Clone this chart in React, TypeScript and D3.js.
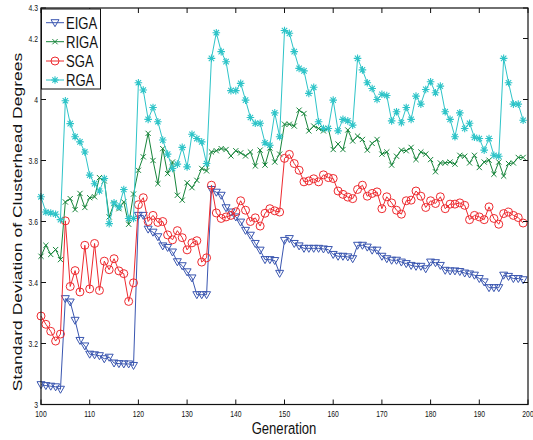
import React from "react";
import * as d3 from "d3";

const generations: number[] = d3.range(100, 200);

const eiga: number[] = [
  3.065, 3.062, 3.06, 3.058, 3.05, 3.347, 3.336, 3.276, 3.21, 3.192,
  3.165, 3.163, 3.16, 3.15, 3.155, 3.136, 3.134, 3.133, 3.133, 3.128,
  3.62, 3.62, 3.575, 3.565, 3.55, 3.52, 3.515, 3.5, 3.468, 3.455,
  3.435, 3.415, 3.36, 3.36, 3.36, 3.705, 3.696, 3.686, 3.645, 3.631,
  3.615, 3.598, 3.571, 3.555, 3.528, 3.506, 3.475, 3.475, 3.472, 3.43,
  3.538, 3.544, 3.528, 3.52, 3.512, 3.512, 3.512, 3.512, 3.51, 3.508,
  3.492, 3.486, 3.486, 3.484, 3.478, 3.522, 3.522, 3.516, 3.506, 3.506,
  3.486, 3.478, 3.473, 3.473, 3.467, 3.462, 3.456, 3.453, 3.453, 3.445,
  3.467, 3.465, 3.456, 3.44, 3.438, 3.438, 3.436, 3.431, 3.428, 3.424,
  3.413, 3.402, 3.383, 3.383, 3.383, 3.424, 3.42, 3.413, 3.413, 3.409,
];

const riga: number[] = [
  3.486, 3.522, 3.492, 3.508, 3.475, 3.664, 3.675, 3.639, 3.692, 3.646,
  3.678, 3.681, 3.744, 3.733, 3.615, 3.659, 3.642, 3.664, 3.591, 3.69,
  3.768, 3.812, 3.889, 3.8, 3.724, 3.839, 3.757, 3.795, 3.686, 3.67,
  3.727, 3.711, 3.735, 3.774, 3.766, 3.828, 3.832, 3.839, 3.836, 3.815,
  3.832, 3.825, 3.815, 3.828, 3.782, 3.834, 3.785, 3.841, 3.795, 3.821,
  3.919, 3.919, 3.913, 3.965, 3.954, 3.897, 3.913, 3.905, 3.897, 3.905,
  3.836, 3.854, 3.836, 3.9, 3.864, 3.88, 3.869, 3.834, 3.856, 3.869,
  3.821, 3.828, 3.785, 3.814, 3.834, 3.832, 3.843, 3.803, 3.828, 3.821,
  3.803, 3.763, 3.792, 3.792, 3.795, 3.788, 3.817, 3.814, 3.792, 3.817,
  3.777, 3.795, 3.801, 3.755, 3.795, 3.749, 3.79, 3.792, 3.81, 3.81,
];

const sga: number[] = [
  3.29, 3.263, 3.24, 3.208, 3.231, 3.602, 3.387, 3.439, 3.369, 3.522,
  3.379, 3.528, 3.374, 3.47, 3.442, 3.478, 3.438, 3.429, 3.338, 3.399,
  3.655, 3.678, 3.6, 3.62, 3.597, 3.6, 3.556, 3.54, 3.57, 3.547,
  3.507, 3.53, 3.537, 3.467, 3.481, 3.719, 3.628, 3.61, 3.615, 3.62,
  3.632, 3.668, 3.637, 3.6, 3.612, 3.585, 3.627, 3.642, 3.635, 3.631,
  3.807, 3.82, 3.79, 3.768, 3.73, 3.733, 3.74, 3.73, 3.753, 3.744,
  3.741, 3.7, 3.689, 3.68, 3.675, 3.705, 3.719, 3.683, 3.692, 3.697,
  3.642, 3.681, 3.661, 3.637, 3.624, 3.668, 3.67, 3.7, 3.683, 3.646,
  3.668, 3.659, 3.681, 3.642, 3.657, 3.657, 3.661, 3.653, 3.606, 3.62,
  3.615, 3.606, 3.648, 3.61, 3.591, 3.626, 3.631, 3.62, 3.613, 3.595,
];

const rga: number[] = [
  3.681, 3.631, 3.628, 3.624, 3.606, 3.996, 3.921, 3.878, 3.861, 3.828,
  3.752, 3.724, 3.7, 3.741, 3.593, 3.661, 3.648, 3.705, 3.61, 3.61,
  4.055, 4.031, 3.935, 3.974, 3.927, 3.867, 3.821, 3.774, 3.788, 3.843,
  3.779, 3.886, 3.872, 3.861, 3.79, 4.135, 4.219, 4.157, 4.124, 4.029,
  4.029, 4.053, 3.998, 3.941, 3.922, 3.922, 3.858, 3.85, 3.956, 3.878,
  4.226, 4.217, 4.157, 4.102, 4.094, 4.02, 4.04, 3.927, 3.905, 3.905,
  3.998, 3.897, 3.935, 3.93, 3.916, 4.135, 4.097, 4.055, 4.036, 4.0,
  4.017, 4.013, 3.93, 3.96, 3.924, 3.974, 3.935, 4.011, 3.985, 4.033,
  4.058, 4.022, 4.044, 3.96, 3.935, 3.878, 3.956, 3.905, 3.922, 3.876,
  3.872, 3.834, 3.872, 3.817, 3.814, 4.135, 4.055, 3.985, 3.985, 3.932,
];

const seriesNames: string[] = ["EIGA", "RIGA", "SGA", "RGA"];
const seriesColors: string[] = ["#3a56b0", "#17853b", "#ee2a2f", "#2ec4c8"];
const seriesMarkers: string[] = ["triangle", "x", "circle", "star"];
const seriesValues: number[][] = [eiga, riga, sga, rga];

const xTicks: number[] = d3.range(100, 201, 10);
const yTicks: number[] = [3, 3.2, 3.4, 3.6, 3.8, 4, 4.2, 4.3];

const W = 533;
const H = 440;
const left = 41;
const right = 528;
const top = 8;
const bottom = 404.5;
const SX = 0.77;
const FONT = "'Liberation Sans', Arial, Helvetica, sans-serif";

function Marker({ kind, x, y, color }: { kind: string; x: number; y: number; color: string }) {
  if (kind === "triangle") {
    return <path d={`M${x - 4},${y - 3} L${x + 4},${y - 3} L${x},${y + 4} Z`} fill="none" stroke={color} strokeWidth={1} />;
  }
  if (kind === "circle") {
    return <circle cx={x} cy={y} r={4} fill="none" stroke={color} strokeWidth={1} />;
  }
  if (kind === "x") {
    const s = 2.6;
    return <path d={`M${x - s},${y - s} L${x + s},${y + s} M${x - s},${y + s} L${x + s},${y - s}`} stroke={color} strokeWidth={1} />;
  }
  const s = 3.8;
  const d = 2.7;
  return (
    <path
      d={`M${x - s},${y} L${x + s},${y} M${x},${y - s} L${x},${y + s} M${x - d},${y - d} L${x + d},${y + d} M${x - d},${y + d} L${x + d},${y - d}`}
      stroke={color}
      strokeWidth={1.1}
    />
  );
}

export default function App() {
  const x = d3.scaleLinear().domain([100, 200]).range([left, right]);
  const y = d3.scaleLinear().domain([3, 4.3]).range([bottom, top]);
  const line = d3
    .line<number>()
    .x((_, i) => x(generations[i]))
    .y((v) => y(v));

  const legendRows = [22.7, 41.7, 61, 80];

  return (
    <svg
      width={W}
      height={H}
      style={{ position: "absolute", left: 0, top: 0, display: "block", background: "#fff" }}
      fontFamily={FONT}
    >
      <rect x={0} y={0} width={W} height={H} fill="#fff" />
      {seriesValues.map((vals, si) => (
        <g key={seriesNames[si]}>
          <path d={line(vals) || ""} fill="none" stroke={seriesColors[si]} strokeWidth={1} />
          {vals.map((v, i) => (
            <Marker key={i} kind={seriesMarkers[si]} x={x(generations[i])} y={y(v)} color={seriesColors[si]} />
          ))}
        </g>
      ))}

      {/* axes box */}
      <rect x={left} y={top} width={right - left} height={bottom - top} fill="none" stroke="#111" strokeWidth={1.2} />
      {xTicks.map((t) => (
        <g key={"xt" + t}>
          <line x1={x(t)} x2={x(t)} y1={bottom} y2={bottom - 5} stroke="#111" />
          <line x1={x(t)} x2={x(t)} y1={top} y2={top + 5} stroke="#111" />
          <text
            transform={`translate(${x(t)},${417}) scale(${SX},1)`}
            textAnchor="middle"
            fontSize={8.8}
            fill="#111"
          >
            {t}
          </text>
        </g>
      ))}
      {yTicks.map((t) => (
        <g key={"yt" + t}>
          <line x1={left} x2={left + 5} y1={y(t)} y2={y(t)} stroke="#111" />
          <line x1={right} x2={right - 5} y1={y(t)} y2={y(t)} stroke="#111" />
          <text
            transform={`translate(${38},${y(t) + 3.2}) scale(${SX},1)`}
            textAnchor="end"
            fontSize={8.8}
            fill="#111"
          >
            {d3.format("~g")(t)}
          </text>
        </g>
      ))}

      {/* axis labels */}
      <text
        transform={`translate(${284},${434}) scale(${SX},1)`}
        textAnchor="middle"
        fontSize={17}
        fill="#111"
      >
        Generation
      </text>
      <text
        transform={`translate(${22},${222}) scale(${SX},1) rotate(-90)`}
        textAnchor="middle"
        fontSize={17.5}
        fill="#111"
      >
        Standard Deviation of Clusterhead Degrees
      </text>

      {/* legend */}
      <rect x={41.5} y={9} width={59} height={80} fill="#fff" stroke="#111" strokeWidth={1} />
      {seriesNames.map((name, si) => (
        <g key={"lg" + name}>
          <line x1={46} x2={64} y1={legendRows[si]} y2={legendRows[si]} stroke={seriesColors[si]} strokeWidth={1} />
          <Marker kind={seriesMarkers[si]} x={55} y={legendRows[si]} color={seriesColors[si]} />
          <text
            transform={`translate(${66},${legendRows[si] + 6}) scale(${SX},1)`}
            fontSize={17}
            fill="#111"
          >
            {name}
          </text>
        </g>
      ))}
    </svg>
  );
}
